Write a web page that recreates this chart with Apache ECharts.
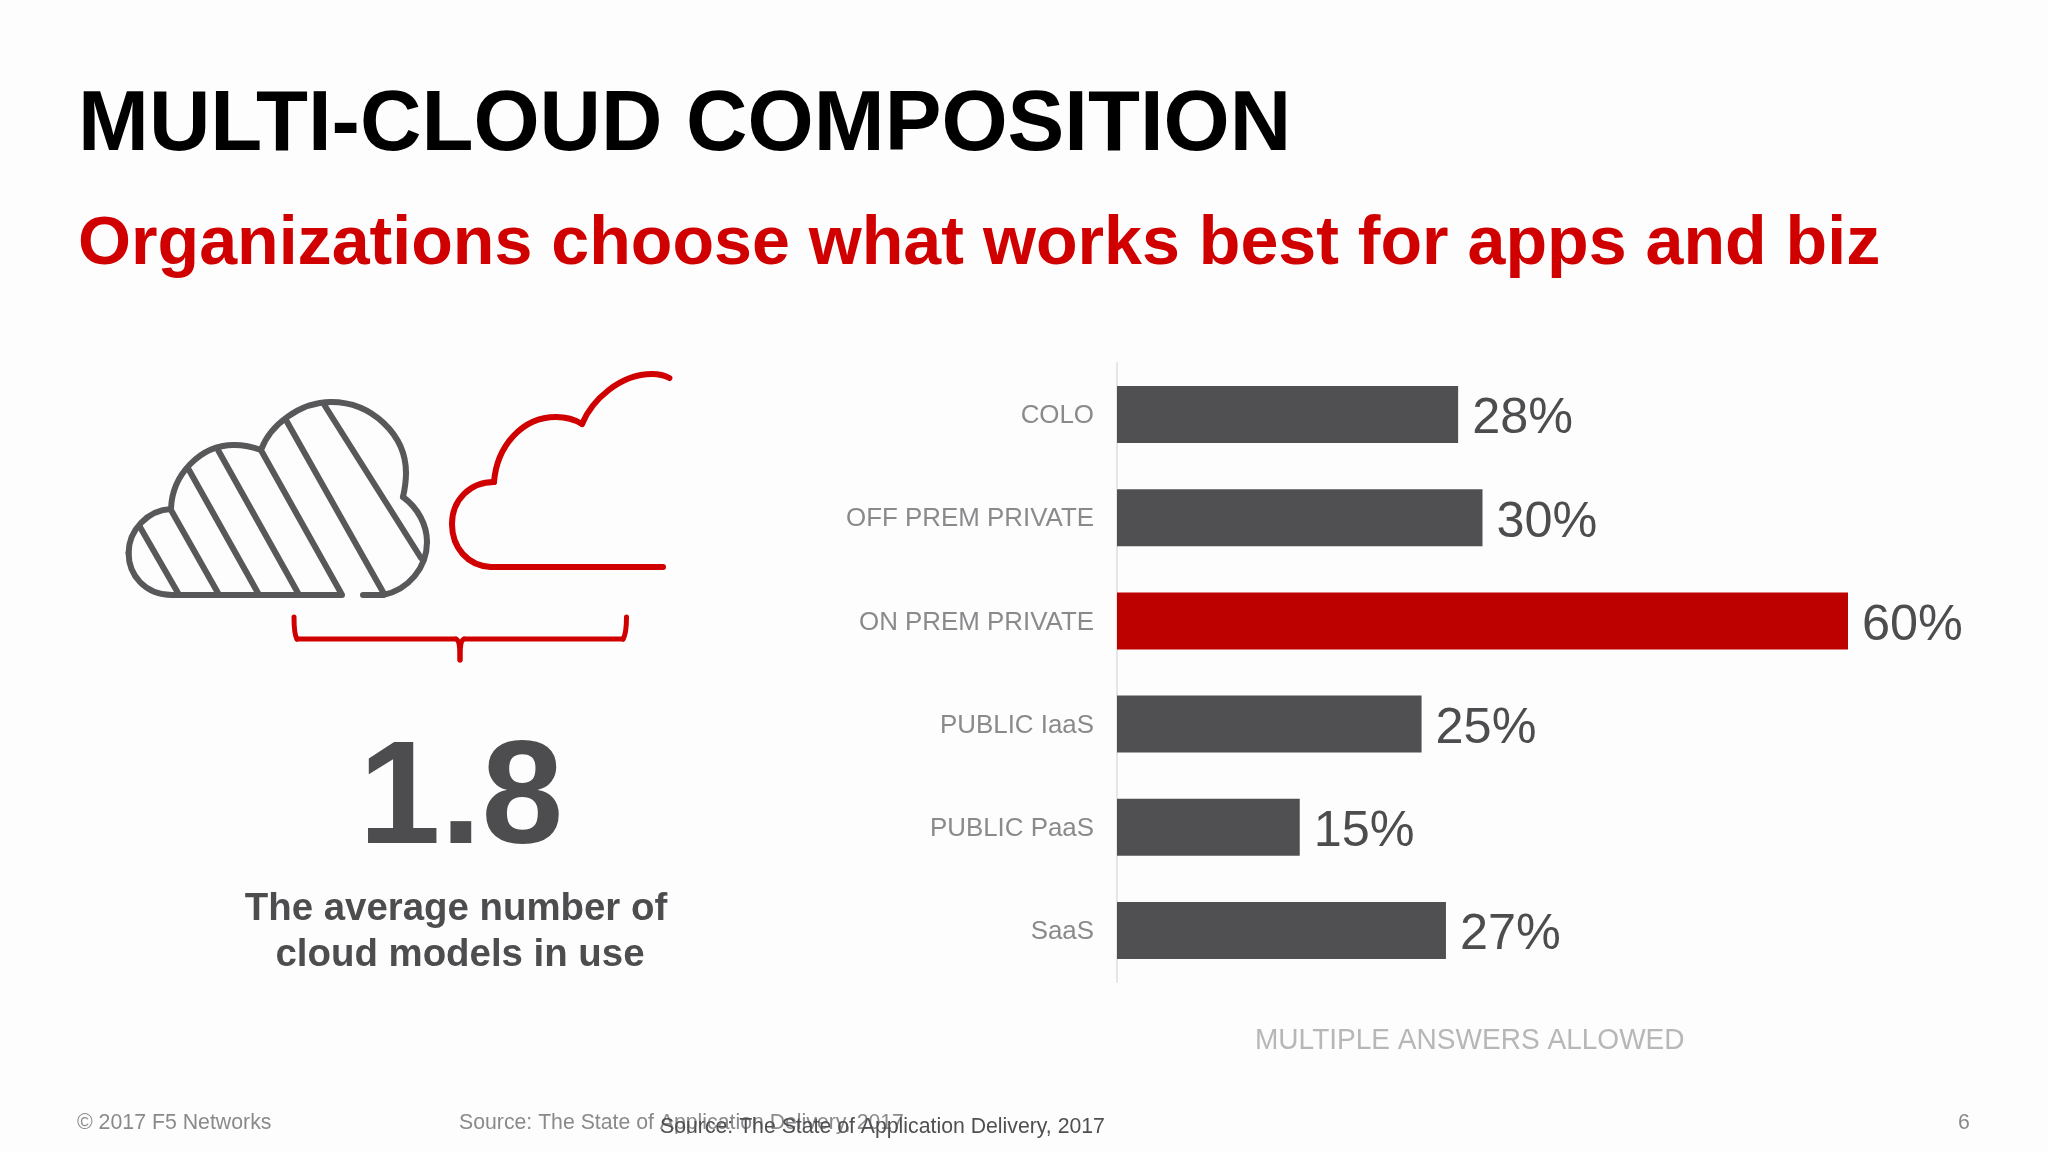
<!DOCTYPE html>
<html><head><meta charset="utf-8">
<style>html,body{margin:0;padding:0;background:#fefdfe}#c{width:2048px;height:1152px}</style>
<script src="https://cdn.jsdelivr.net/npm/echarts@6/dist/echarts.min.js"></script>
</head><body><div id="c"></div>
<script>
const categories = ['COLO','OFF PREM PRIVATE','ON PREM PRIVATE','PUBLIC IaaS','PUBLIC PaaS','SaaS'];
const shares = [28,30,60,25,15,27];
const highlighted = 'ON PREM PRIVATE';
const FONT = '"Liberation Sans", Arial, sans-serif';
const GREY = '#505052', RED = '#bd0000', LINE_RED = '#d00000', CLOUD = '#58585a';

const hatch = [[140,527,178,593],[171,510,218,593],[189,470,258,593],[218,450,298,593],[262,452,341,593],[286,420,383,592],[325,406,421,558]];
function stroke(path,color,w){
  const t=path.trim().split(/\s+/).join(' ').match(/[MLC]|-?[\d.]+/g), out=[]; let i=0,x=0,y=0,cmd='';
  const st={stroke:color,lineWidth:w,lineCap:'round',fill:null};
  while(i<t.length){
    if(/[MLC]/.test(t[i])) cmd=t[i++];
    if(cmd==='M'){x=+t[i++];y=+t[i++];}
    else if(cmd==='L'){const a=+t[i++],b=+t[i++];out.push({type:'line',silent:true,shape:{x1:x,y1:y,x2:a,y2:b},style:st});x=a;y=b;}
    else{const c=[+t[i++],+t[i++],+t[i++],+t[i++],+t[i++],+t[i++]];
      out.push({type:'bezierCurve',silent:true,shape:{x1:x,y1:y,cpx1:c[0],cpy1:c[1],cpx2:c[2],cpy2:c[3],x2:c[4],y2:c[5]},style:st});x=c[4];y=c[5];}
  }
  return out;
}
function txt(t,x,y,size,color,opt){opt=opt||{};return {type:'text',x:x,y:y,scaleX:opt.sx||1,silent:true,style:{text:t,font:(opt.bold?'bold ':'')+size+'px '+FONT,fill:color,textAlign:opt.align||'left',textVerticalAlign:'middle',verticalAlign:'middle'}};}

let graphic = [].concat(
  stroke('M342 595 L172 595 C145 595 128.6 575 128.6 553 C128.6 530 148 510 171 509 C172 475 200 445 234 445 C243 445 253 447 261 450 C270 425 300 402 331 402 C372 402 406 435 406 473 C406 480 405 488 403 497 C418 508 427 525 427 542 C427 568 408 590 383 595 L363 595',CLOUD,6),
  ...hatch.map(h=>stroke('M'+h[0]+' '+h[1]+' L'+h[2]+' '+h[3],CLOUD,6)),
  stroke('M669.4 378 C664 375 658 374 652 374 C620 374 592 400 582 424 C574 419 565 417 556 417 C522 417 497 446 494 482 C470 482 452 500 452 524 C452 548 468 566 491 567 L663 567',LINE_RED,6),
  stroke('M294 617 C294 630 295 636 297 639 L456 639 C459 640 460 645 460 660 C460 645 461 640 464 639 L623 639 C625 636 626.5 630 626.5 617',LINE_RED,5),
  [
  txt('1.8',461,802,147,'#4d4d4f',{bold:true,align:'center'}),
  txt('The average number of',456,909,38.4,'#4d4d4f',{bold:true,align:'center'}),
  txt('cloud models in use',460,955,38.4,'#4d4d4f',{bold:true,align:'center'}),
  txt('MULTIPLE ANSWERS ALLOWED',1255,1041,29,'#b7b7b9',{sx:0.967}),
  txt('© 2017 F5 Networks',77,1123,21.3,'#8a8a8c'),
  txt('Source: The State of Application Delivery, 2017',459,1123,21.25,'#8a8a8c'),
  txt('Source: The State of Application Delivery, 2017',660,1127,21.25,'#4f4f51'),
  txt('6',1964,1123,21.3,'#8a8a8c',{align:'center'})
  ]);

const chart = echarts.init(document.getElementById('c'),null,{renderer:'canvas'});
chart.setOption({
  animation:false,
  backgroundColor:'#fefdfe',
  title:[
    {text:'MULTI-CLOUD COMPOSITION',left:78,top:84,padding:0,textStyle:{fontFamily:FONT,fontWeight:'bold',fontSize:85.1,color:'#000'}},
    {text:'Organizations choose what works best for apps and biz',left:78,top:211,padding:0,textStyle:{fontFamily:FONT,fontWeight:'bold',fontSize:68.15,color:LINE_RED}}
  ],
  grid:{left:1117,top:363,width:731,height:619,containLabel:false},
  xAxis:{type:'value',min:0,max:60,show:false},
  yAxis:{type:'category',inverse:true,data:categories,
    axisTick:{show:false},
    axisLine:{show:true,lineStyle:{color:'#e6e6e8',width:2}},
    axisLabel:{margin:23,color:'#8a8a8c',formatter:'{t|{value}}',rich:{t:{fontFamily:FONT,fontSize:25.9,color:'#8a8a8c',padding:[3,0,0,0]}}}},
  series:[{type:'bar',barWidth:57,
    data:categories.map((c,i)=>({value:shares[i],itemStyle:{color:c===highlighted?RED:GREY}})),
    label:{show:true,position:'right',distance:14,offset:[0,5],formatter:p=>p.value+'%',fontFamily:FONT,fontSize:50.4,color:'#4d4d4f'}}],
  graphic:{elements:graphic}
});
</script></body></html>
